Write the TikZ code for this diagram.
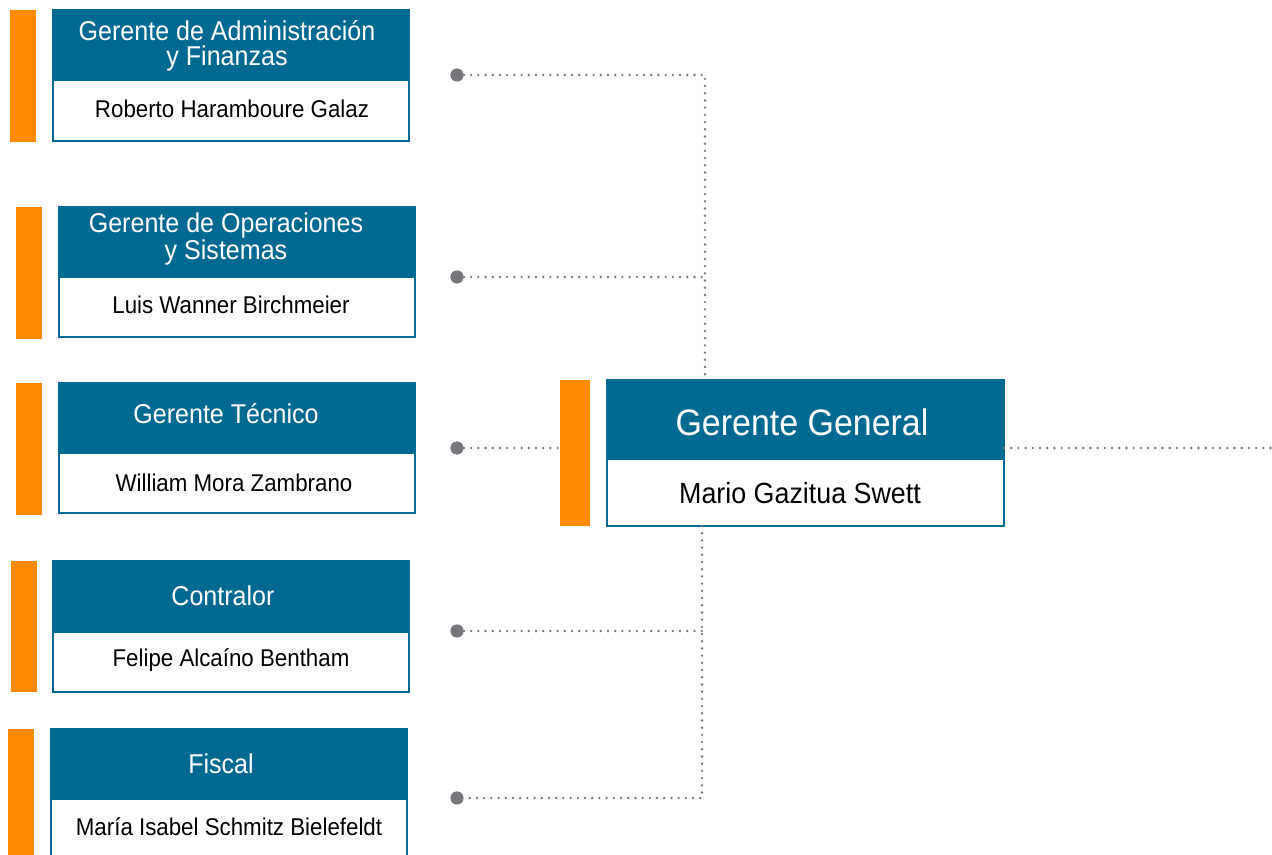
\documentclass[tikz,border=0pt]{standalone}
\usepackage{fontspec}
\setmainfont{Liberation Sans}[FakeStretch=0.92]
\definecolor{hdr}{RGB}{0,105,145}
\definecolor{orng}{RGB}{255,138,0}
\definecolor{dotg}{RGB}{118,118,124}
\begin{document}
\begin{tikzpicture}[x=0.02cm,y=-0.02cm,
  bar/.style={fill=orng,draw=none},
  hbox/.style={fill=hdr,draw=hdr,line width=0.6pt},
  wbox/.style={fill=white,draw=hdr,line width=1pt},
  htxt/.style={text=white,font=\fontsize{15.5}{14.2}\selectfont,align=center},
  ntxt/.style={text=black,font=\fontsize{13.8}{15}\selectfont},
  dotn/.style={circle,fill=dotg,inner sep=0pt,minimum size=7.5pt},
  conn/.style={draw=dotg,line width=1.5pt,line cap=round,dash pattern=on 0pt off 4.1pt}
]
\useasboundingbox (0,0) rectangle (1272,855);
% box 1
\fill[bar] (10,10) rectangle (36,142);
\path[hbox] (53,10) rectangle (409,80);
\path[wbox] (53,80) rectangle (409,141);
\node[htxt] (h1) at (227,46) {Gerente de Administración\\ y Finanzas};
\node[ntxt] (n1) at (232,109) {Roberto Haramboure Galaz};
% box 2
\fill[bar] (16,207) rectangle (42,339);
\path[hbox] (59,207) rectangle (415,277);
\path[wbox] (59,277) rectangle (415,337);
\node[htxt] (h2) at (226,239) {Gerente de Operaciones\\ y Sistemas};
\node[ntxt] (n2) at (231,305) {Luis Wanner Birchmeier};
% box 3
\fill[bar] (16,383) rectangle (42,515);
\path[hbox] (59,383) rectangle (415,453);
\path[wbox] (59,453) rectangle (415,513);
\node[htxt] (h3) at (226,414) {Gerente Técnico};
\node[ntxt] (n3) at (234,483) {William Mora Zambrano};
% box 4
\fill[bar] (11,561) rectangle (37,692);
\path[hbox] (53,561) rectangle (409,632);
\path[wbox] (53,632) rectangle (409,692);
\node[htxt] (h4) at (223,596) {Contralor};
\node[ntxt] (n4) at (231,660) {Felipe Alcaíno Bentham};
% box 5
\fill[bar] (8,729) rectangle (34,870);
\path[hbox] (51,729) rectangle (407,799);
\path[wbox] (51,799) rectangle (407,870);
\node[htxt] (h5) at (221,764) {Fiscal};
\node[ntxt] (n5) at (229,827) {María Isabel Schmitz Bielefeldt};
% center
\fill[bar] (560,380) rectangle (590,526);
\path[hbox] (607,380) rectangle (1004,459);
\path[wbox] (607,459) rectangle (1004,526);
\node[text=white,font=\fontsize{21}{26}\selectfont] (hg) at (802,422) {Gerente General};
\node[font=\fontsize{16.6}{19}\selectfont] (ng) at (800,493) {Mario Gazitua Swett};
\coordinate (gbot) at (702,526);
\coordinate (gleft) at (560,448);
\coordinate (gright) at (1004,448);
\coordinate (rend) at (1272,448);
\coordinate (gtop) at (705,380);
% dots
\node[dotn] (d1) at (457,75) {};
\node[dotn] (d2) at (457,277) {};
\node[dotn] (d3) at (457,448) {};
\node[dotn] (d4) at (457,631) {};
\node[dotn] (d5) at (457,798) {};
% junctions
\coordinate (j1) at (705,75);
\coordinate (j2) at (705,277);
\coordinate (j4) at (702,631);
\coordinate (j5) at (702,798);
% connectors
\draw[conn] (d1.east) -- (j1) -- (gtop);
\draw[conn] (d2.east) -- (j2);
\draw[conn] (d3.east) -- (gleft);
\draw[conn] (gright) -- (rend);
\draw[conn] (gbot) -- (j5) -- (d5.east);
\draw[conn] (d4.east) -- (j4);
\end{tikzpicture}
\end{document}
